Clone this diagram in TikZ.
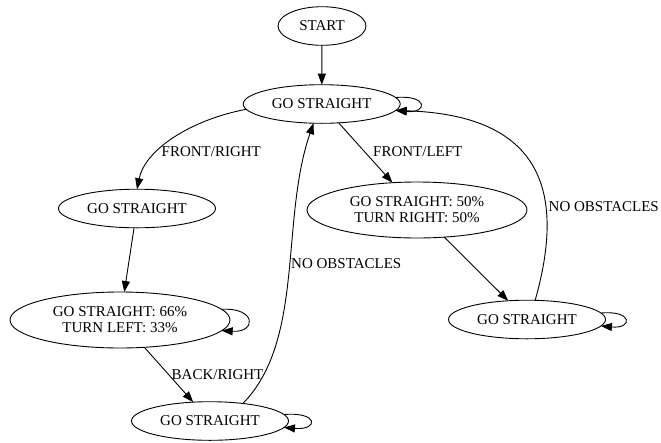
\documentclass[tikz,border=0pt]{standalone}
\usepackage{fontspec}
\setmainfont{Liberation Serif}
\usetikzlibrary{shapes.geometric,arrows.meta}
\begin{document}
\begin{tikzpicture}[x=1pt,y=-1pt,
  state/.style={draw, ellipse, line width=0.9pt, inner sep=0pt, outer sep=0pt,
    font=\fontsize{15}{16}\selectfont, align=center},
  single/.style={state, minimum width=157pt, minimum height=38.6pt},
  double/.style={state, minimum width=220pt, minimum height=56pt},
  edge/.style={draw, line width=0.9pt, -{Triangle[length=11pt,width=8pt]}},
  lbl/.style={anchor=west, inner sep=0pt, font=\fontsize{15}{16}\selectfont}]

\useasboundingbox[fill=white] (0,0) rectangle (661,442);

% states
\node[state, minimum width=88pt, minimum height=38.6pt] (start) at (322,26) {START};
\node[single] (g0) at (321.7,104) {GO STRAIGHT};
\node[single] (g1) at (137,208.5) {GO STRAIGHT};
\node[double] (p50) at (417,210) {GO STRAIGHT: 50\%\\TURN RIGHT: 50\%};
\node[double] (p66) at (120,320) {GO STRAIGHT: 66\%\\TURN LEFT: 33\%};
\node[single] (g2) at (210,421) {GO STRAIGHT};
\node[single] (g3) at (527,319.5) {GO STRAIGHT};

% transitions
\draw[edge] (start) -- (g0);
\draw[edge] (g0.5) .. controls +(32.5,-3) and +(32.5,3) .. (g0.-5);
\draw[edge] (g0.184.5) .. controls (190,120) and (145,150) .. (g1.north);
\draw[edge] (g0) -- (p50);
\draw[edge] (g1) -- (p66);
\draw[edge] (p66.6) .. controls +(35,-2) and +(35,2) .. (p66.-6);
\draw[edge] (p66) -- (g2);
\draw[edge] (g2.5) .. controls +(35,-3) and +(35,3) .. (g2.-5);
\draw[edge] (g2.28.6) .. controls (305,340) and (280,220) .. (g0.247.5);
\draw[edge] (p50) -- (g3);
\draw[edge] (g3.5) .. controls +(32,-3) and +(32,3) .. (g3.-5);
\draw[edge] (g3.67.7) .. controls (565,195) and (545,115) .. (g0.-5);

% transition labels
\node[lbl] (lfr) at (161.5,152) {FRONT/RIGHT};
\node[lbl] (lfl) at (373,152) {FRONT/LEFT};
\node[lbl] (lbr) at (171.5,375) {BACK/RIGHT};
\node[lbl] (lno1) at (291,264) {NO OBSTACLES};
\node[lbl] (lno2) at (548.5,207) {NO OBSTACLES};
\end{tikzpicture}
\end{document}
